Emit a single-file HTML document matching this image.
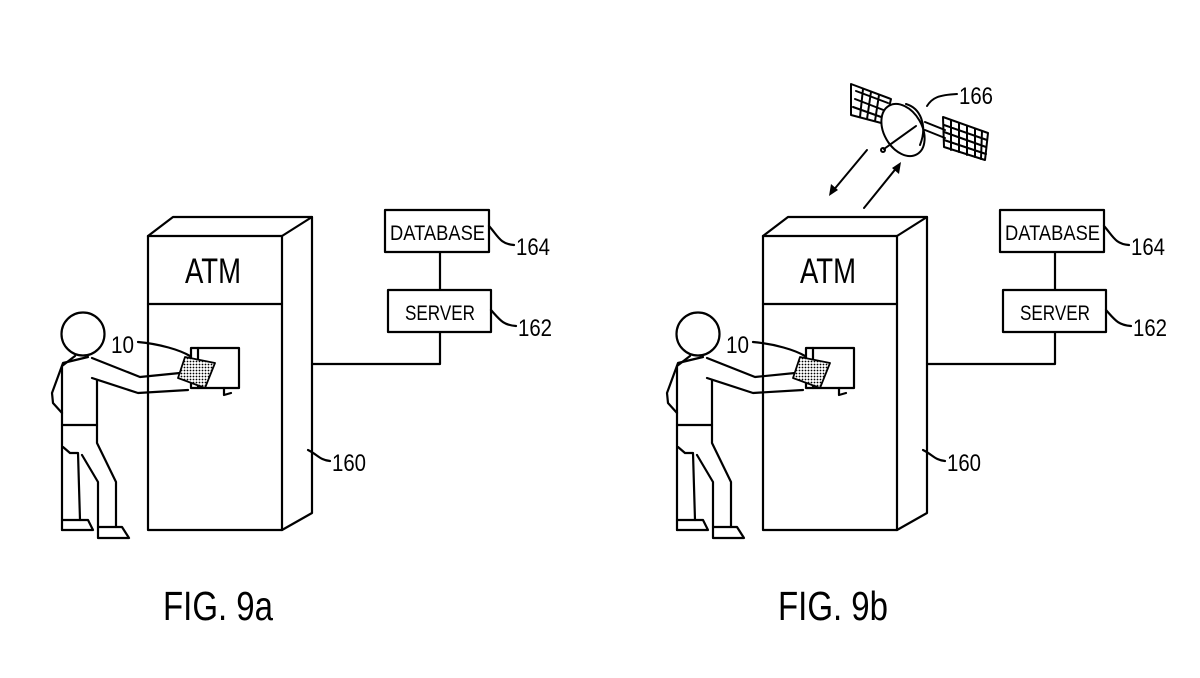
<!DOCTYPE html>
<html><head><style>
html,body{margin:0;padding:0;background:#fff;}
svg{display:block;}
text{font-family:"Liberation Sans","DejaVu Sans",sans-serif;fill:#000;}
</style></head><body>
<svg width="1200" height="678" viewBox="0 0 1200 678" xmlns="http://www.w3.org/2000/svg">
<defs>
<pattern id="dots" width="3" height="3" patternUnits="userSpaceOnUse"><rect width="3" height="3" fill="#fff"/><circle cx="1.5" cy="1.5" r="0.9" fill="#000"/></pattern>
<g id="fig" fill="none" stroke="#000" stroke-width="2.2" stroke-linejoin="round" stroke-linecap="round">
  <rect x="148" y="236" width="134" height="294" fill="#fff"/>
  <line x1="148" y1="304" x2="282" y2="304"/>
  <path d="M148 236 L173 217 L312 217 L282 236"/>
  <path d="M312 217 L312 513 L282 530"/>
  <rect x="191" y="348" width="48" height="40" fill="#fff"/>
  <line x1="198" y1="348" x2="198" y2="388"/>
  <path d="M224 388 L224 395 L231 393"/>
  <path d="M312 364 L440 364 L440 332"/>
  <line x1="440" y1="252" x2="440" y2="290"/>
  <rect x="385" y="210" width="104" height="42" fill="#fff"/>
  <rect x="388" y="290" width="103" height="42" fill="#fff"/>
  <path d="M489 226 C498 236 500 244 514 245"/>
  <path d="M491 310 C500 320 503 325 516 326"/>
  <path d="M308 450 C318 455 320 460 330 461"/>
  <path d="M138 342 C160 344 180 350 190 356"/>
  <circle cx="83" cy="334" r="21.5" fill="#fff"/>
  <path d="M88 357 L63 363 L52 393 L53 403 L62 413"/>
  <path d="M75 356 L62 366 L62 530"/>
  <path d="M92 358 L140 377 L190 372"/>
  <path d="M92 378 L138 393 L188 390"/>
  <path d="M97 380 L97 443 L116 482 L116 527"/>
  <line x1="62" y1="425" x2="97" y2="425"/>
  <path d="M63 447 L70 453 L78 453 L80 520"/>
  <path d="M82 455 L98 482 L98 527"/>
  <path d="M62 520 L88 520 L93 530 L62 530"/>
  <path d="M98 527 L122 527 L129 538 L98 538 Z"/>
  <path d="M185 357 L215 363 L205 388 L178 378 Z" fill="url(#dots)" stroke-width="1.8"/>
</g>
</defs>

<use href="#fig"/>
<use href="#fig" x="615"/>

<text x="185" y="283" font-size="35" textLength="56" lengthAdjust="spacingAndGlyphs">ATM</text>
<text x="390" y="240" font-size="21" textLength="95" lengthAdjust="spacingAndGlyphs">DATABASE</text>
<text x="405" y="320" font-size="21" textLength="70" lengthAdjust="spacingAndGlyphs">SERVER</text>
<text x="516" y="255" font-size="24" textLength="34" lengthAdjust="spacingAndGlyphs">164</text>
<text x="518" y="336" font-size="24" textLength="34" lengthAdjust="spacingAndGlyphs">162</text>
<text x="332" y="471" font-size="24" textLength="34" lengthAdjust="spacingAndGlyphs">160</text>
<text x="111" y="353" font-size="24" textLength="23" lengthAdjust="spacingAndGlyphs">10</text>
<text x="163" y="620" font-size="41" textLength="110" lengthAdjust="spacingAndGlyphs">FIG. 9a</text>

<text x="800" y="283" font-size="35" textLength="56" lengthAdjust="spacingAndGlyphs">ATM</text>
<text x="1005" y="240" font-size="21" textLength="95" lengthAdjust="spacingAndGlyphs">DATABASE</text>
<text x="1020" y="320" font-size="21" textLength="70" lengthAdjust="spacingAndGlyphs">SERVER</text>
<text x="1131" y="255" font-size="24" textLength="34" lengthAdjust="spacingAndGlyphs">164</text>
<text x="1133" y="336" font-size="24" textLength="34" lengthAdjust="spacingAndGlyphs">162</text>
<text x="947" y="471" font-size="24" textLength="34" lengthAdjust="spacingAndGlyphs">160</text>
<text x="726" y="353" font-size="24" textLength="23" lengthAdjust="spacingAndGlyphs">10</text>
<text x="778" y="620" font-size="41" textLength="110" lengthAdjust="spacingAndGlyphs">FIG. 9b</text>

<g fill="none" stroke="#000" stroke-width="2" stroke-linecap="round" stroke-linejoin="round">
  <path d="M851 84 L891 99 L885 124 L851 115 Z" fill="#fff"/>
  <path d="M856 91 L888 103 M855 99 L886 111 M853 107 L884 118 M863 89 L860 117 M871 92 L867 119 M879 95 L875 121"/>
  <path d="M943 117 L988 133 L985 160 L944 147 Z" fill="#fff"/>
  <path d="M951 120 L951 150 M959 123 L959 152 M967 126 L967 155 M975 129 L975 157 M982 131 L981 159 M944 125 L987 140 M944 132 L986 147 M944 140 L986 154"/>
  <line x1="925" y1="122" x2="945" y2="130"/>
  <line x1="925" y1="130" x2="945" y2="138"/>
  <ellipse cx="903" cy="130" rx="19" ry="28" transform="rotate(-30 903 130)" fill="#fff"/>
  <path d="M906 104 C920 108 928 125 920 145" />
  <line x1="884" y1="149" x2="916" y2="126"/>
  <circle cx="883" cy="150" r="2"/>
  <path d="M927 106 C932 98 938 95 957 94"/>
  <line x1="867" y1="150" x2="832" y2="192"/>
  <line x1="864" y1="208" x2="898" y2="166"/>
</g>
<path d="M829 196 L831 184 L838 190 Z" fill="#000"/>
<path d="M901 162 L899 174 L892 168 Z" fill="#000"/>
<text x="959" y="104" font-size="24" textLength="34" lengthAdjust="spacingAndGlyphs">166</text>
</svg>
</body></html>
